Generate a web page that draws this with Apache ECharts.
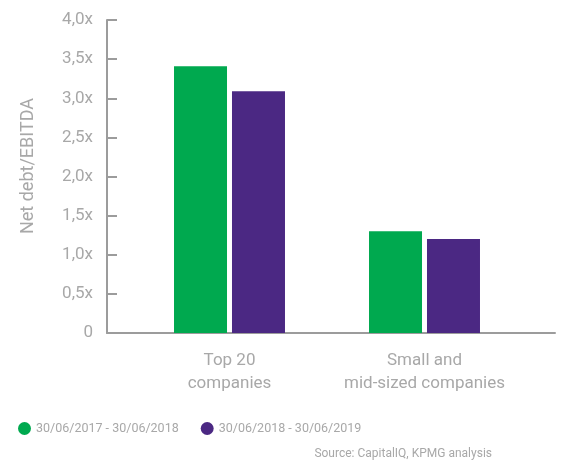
<!DOCTYPE html>
<html><head><meta charset="utf-8">
<script src="https://cdn.jsdelivr.net/npm/echarts@6/dist/echarts.min.js"></script>
<style>html,body{margin:0;padding:0;background:#fff}#c{width:568px;height:465px}</style>
</head><body><div id="c"></div>
<script>
const categories = ['Top 20\ncompanies', 'Small and\nmid-sized companies'];
const seriesNames = ['30/06/2017 - 30/06/2018', '30/06/2018 - 30/06/2019'];
const values2018 = [3.41, 1.30];
const values2019 = [3.09, 1.20];
const yTicks = [0, 0.5, 1, 1.5, 2, 2.5, 3, 3.5, 4];
const yLabels = ['0', '0,5x', '1,0x', '1,5x', '2,0x', '2,5x', '3,0x', '3,5x', '4,0x'];
const colors = ['#00a94f', '#4b2883'];
const grey = '#9c9c9c';
const textGrey = '#a8a8a8';
const font = 'Roboto, "Noto Sans", sans-serif';

const chart = echarts.init(document.getElementById('c'));
chart.setOption({
  animation: false,
  grid: [
    {left: 107, right: 13, top: 20, bottom: 132},
    {left: 132, width: 390, top: 20, bottom: 132}
  ],
  legend: {
    data: seriesNames, left: 13, top: 417, icon: 'circle',
    itemWidth: 13, itemHeight: 13, itemGap: 22,
    textStyle: {color: textGrey, fontSize: 12.5, fontFamily: font}
  },
  xAxis: [
    {type: 'category', gridIndex: 0, data: categories,
     axisLine: {lineStyle: {color: grey, width: 2}}, axisTick: {show: false}, axisLabel: {show: false}},
    {type: 'category', gridIndex: 1, data: categories,
     axisLine: {show: false}, axisTick: {show: false},
     axisLabel: {interval: 0, color: textGrey, fontSize: 17, fontFamily: font, lineHeight: 23, margin: 16}}
  ],
  yAxis: [
    {type: 'value', gridIndex: 0, min: 0, max: 4, interval: 0.5,
     axisLine: {show: true, lineStyle: {color: grey, width: 2}},
     axisTick: {show: true, inside: true, length: 10, lineStyle: {color: grey, width: 2}},
     splitLine: {show: false},
     axisLabel: {color: textGrey, fontSize: 17, fontFamily: font, margin: 14,
       formatter: v => yLabels[yTicks.indexOf(Math.round(v * 2) / 2)]}},
    {type: 'value', gridIndex: 1, min: 0, max: 4, interval: 0.5, show: false, splitLine: {show: false}}
  ],
  graphic: [
    {type: 'text', x: 28, y: 166, rotation: Math.PI / 2,
     style: {text: 'Net debt/EBITDA', fill: textGrey, font: '18px ' + font, textAlign: 'center', textVerticalAlign: 'middle'}},
    {type: 'text', right: 76, top: 448,
     style: {text: 'Source: CapitalIQ, KPMG analysis', fill: textGrey, font: '12px ' + font}}
  ],
  series: [
    {name: seriesNames[0], type: 'bar', xAxisIndex: 1, yAxisIndex: 1, data: values2018,
     barWidth: 53, barGap: '9.4%', itemStyle: {color: colors[0]}},
    {name: seriesNames[1], type: 'bar', xAxisIndex: 1, yAxisIndex: 1, data: values2019,
     barWidth: 53, barGap: '9.4%', itemStyle: {color: colors[1]}}
  ]
});
</script></body></html>
